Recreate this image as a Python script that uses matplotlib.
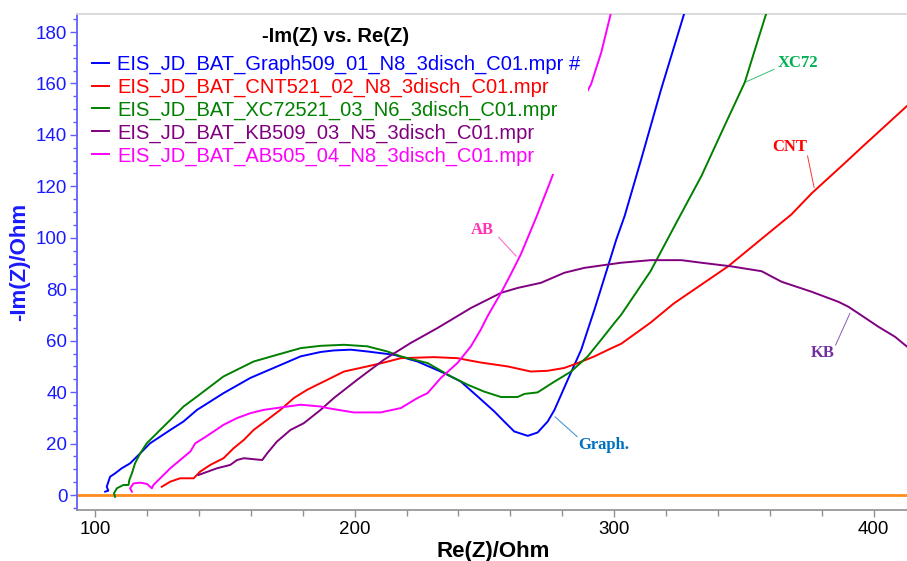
import matplotlib
matplotlib.use("Agg")
import matplotlib.pyplot as plt
from matplotlib.ticker import MultipleLocator

plt.rcParams['font.family'] = ['Liberation Sans', 'DejaVu Sans']

# Nyquist data (Re(Z), -Im(Z)) in Ohm for each electrode
graph_re = [103.9, 105.1, 104.5, 105.8, 107.7, 110.3, 113.5, 117.4, 121.2, 129, 134.1, 139.3,
            149.5, 159.8, 168.8, 179.2, 186.9, 192, 198.5, 204.9, 215.2, 224.2, 234.5, 240.9,
            247.4, 253.8, 257.6, 261.5, 266.7, 270.5, 274.4, 277, 282.1, 287.3, 292.4, 297.6,
            300.8, 304, 310.4, 318.1, 327.1]
graph_im = [1.3, 1.7, 3.2, 7.1, 8.4, 10.4, 12.3, 16.2, 20.1, 25.3, 28.6, 33.1,
            39.6, 45.5, 49.4, 53.9, 55.6, 56.2, 56.5, 55.8, 54.5, 51.9, 47.4, 44.1,
            38.3, 32.5, 28.6, 24.7, 23, 24.3, 28.6, 33.1, 44.8, 56.5, 72.1, 88.9,
            99.3, 108.4, 130.5, 157.8, 187.6]

cnt_re = [125.7, 129, 132.8, 138, 140.5, 144.4, 149.5, 153.4, 157.3, 161.1, 166.3, 171.4,
          176.6, 181.7, 186.9, 195.9, 204.9, 211.3, 217.8, 230.6, 239.6, 248.6, 258.9, 267.9,
          274.4, 280.8, 286, 292.4, 299, 302.7, 314, 323, 333.6, 343.9, 356.8, 368.3, 376.1,
          388.9, 395.4, 400.5, 413.4]
cnt_im = [3.2, 5.2, 6.5, 6.5, 9.1, 11.7, 14.3, 18.2, 21.4, 25.3, 29.2, 33.1,
          37.7, 40.9, 43.5, 48, 50, 51.5, 53.2, 53.6, 53.2, 51.5, 50, 48,
          48.3, 49.4, 51.3, 53.9, 57.1, 58.8, 67, 74.5, 81.8, 88.9, 99.6, 109.1, 117.3,
          129.1, 135.2, 139.9, 151.8]

xc72_re = [107.7, 107.3, 108.4, 110.9, 112.9, 113.2, 114.2, 115.4, 117.4, 119.9, 123.8, 129,
           134.1, 139.3, 149.5, 161.1, 170.1, 179.2, 186.9, 195.9, 204.9, 212.6, 217.8, 228.1,
           237.1, 243.5, 249.9, 256.4, 262.8, 265.4, 270.5, 277, 283.4, 289.8, 295, 300.1,
           302.7, 314, 324.6, 333.6, 341.3, 350.3, 355.5, 358.7]
xc72_im = [-0.7, 0.7, 2.6, 3.9, 3.9, 5.8, 8.4, 12.3, 16.2, 20.1, 24, 29.2,
           34.4, 38.3, 46.1, 51.9, 54.5, 57.1, 58, 58.4, 57.8, 55.8, 53.9, 51.3,
           46.1, 42.9, 40.2, 38.1, 38.1, 39.3, 39.9, 44.1, 48, 53.9, 60.4, 66.9,
           70.1, 87, 107.1, 124, 140.9, 160.4, 177.3, 187.6]

kb_re = [139.9, 147, 152.1, 154.7, 157.3, 164.4, 166.3, 170.1, 175.3, 180.4, 186.9, 192,
         201, 211.3, 221.6, 231.9, 244.8, 256.4, 262.8, 271.8, 280.8, 288.5, 297.6, 302.7,
         314, 325.9, 333.6, 345, 356.8, 364.5, 376.1, 386.4, 390.2, 394.1, 401.8, 408.2, 413.5]
kb_im = [7.8, 10.4, 11.7, 13.6, 14.3, 13.6, 16.2, 20.8, 25.3, 27.9, 33.1, 37.7,
         44.8, 52.6, 59.1, 64.9, 72.7, 78.6, 80.5, 82.5, 86.4, 88.3, 89.6, 90.3,
         91.3, 91.3, 90.3, 88.9, 87, 82.9, 79, 75.1, 73.2, 70.6, 65.4, 61.5, 57.1]

ab_re = [114.2, 113.5, 114.8, 117.4, 120, 121.9, 122.5, 125.1, 129, 132.8, 136.7, 138.6,
         141.8, 145.7, 149.5, 154.7, 159.8, 165, 172.7, 179.2, 186.9, 189.5, 199.7, 210,
         217.8, 224.2, 228.1, 233.2, 239.6, 244.8, 248.6, 251.2, 256.4, 260, 264, 270,
         275.7, 282, 287, 291.1, 295, 298.8]
ab_im = [1.3, 2.6, 4.5, 4.8, 4.3, 2.6, 3.9, 6.5, 10.4, 13.6, 16.9, 20.1,
         22.1, 24.7, 27.3, 29.9, 31.8, 33.1, 34.2, 35.1, 34.4, 33.8, 32.1, 32.1,
         33.8, 37.7, 39.6, 45.5, 51.3, 57.8, 64.3, 69.5, 78.6, 85.5, 93.5, 108,
         122.7, 140, 152, 159.7, 172, 187.6]

series_names = [
    "EIS_JD_BAT_Graph509_01_N8_3disch_C01.mpr #",
    "EIS_JD_BAT_CNT521_02_N8_3disch_C01.mpr",
    "EIS_JD_BAT_XC72521_03_N6_3disch_C01.mpr",
    "EIS_JD_BAT_KB509_03_N5_3disch_C01.mpr",
    "EIS_JD_BAT_AB505_04_N8_3disch_C01.mpr",
]
series_colors = ["#0000ff", "#ff0000", "#008000", "#800080", "#ff00ff"]

# Callout labels: text, text position, leader start, leader end, colour
callouts = [
    ("XC72",   (371.0, 168.0), (361.6, 165.5), (351.0, 160.7), "#00b050"),
    ("CNT",    (367.6, 135.3), (374.5, 131.8), (377.0, 119.6), "#ff0000"),
    ("KB",     (380.5, 55.1),  (385.3, 58.3),  (390.8, 70.6),  "#7030a0"),
    ("Graph.", (296.1, 19.5),  (285.7, 22.7),  (277.2, 30.4),  "#0070c0"),
    ("AB",     (249.3, 103.0), (255.5, 100.2), (262.2, 92.9),  "#ff33b4"),
]

fig = plt.figure(figsize=(9.07, 5.61), dpi=100)
ax = fig.add_axes([77 / 907, 1 - 510 / 561, 1 - 77 / 907 + 0.002, (510 - 14) / 561])

all_re = [graph_re, cnt_re, xc72_re, kb_re, ab_re]
all_im = [graph_im, cnt_im, xc72_im, kb_im, ab_im]
for re_, im_, name, col in zip(all_re, all_im, series_names, series_colors):
    ax.plot(re_, im_, color=col, lw=1.4, label=name, zorder=3)

ax.axhline(0, color="#ff8c1a", lw=2.0, zorder=2)

for text, tpos, p0, p1, col in callouts:
    ax.plot([p0[0], p1[0]], [p0[1], p1[1]], color=col, lw=0.7, alpha=0.8, zorder=4)
    ax.text(tpos[0], tpos[1], text, color=col, fontsize=12, fontweight="bold",
            family=["Liberation Serif", "DejaVu Serif"], ha="center", va="center", zorder=4)

ax.set_xlim(93.05, 413.5)
ax.set_ylim(-5.83, 187.0)

ax.xaxis.set_major_locator(MultipleLocator(100))
ax.xaxis.set_minor_locator(MultipleLocator(20))
ax.yaxis.set_major_locator(MultipleLocator(20))
ax.yaxis.set_minor_locator(MultipleLocator(5))

ax.spines["right"].set_visible(False)
ax.spines["top"].set_color("#d8d8d8")
ax.spines["top"].set_linewidth(1.3)
ax.spines["bottom"].set_color("#909090")
ax.spines["bottom"].set_linewidth(1.2)
ax.spines["left"].set_color("#6060ff")
ax.spines["left"].set_linewidth(1.3)

ax.tick_params(axis="x", which="major", length=5, width=1, color="#909090",
               labelsize=13.5, labelcolor="black", pad=3)
ax.tick_params(axis="x", which="minor", length=4, width=1, color="#909090")
ax.tick_params(axis="y", which="major", length=5, width=1, color="#6060ff",
               labelsize=13.5, labelcolor="#1a1aff", pad=2)
ax.tick_params(axis="y", which="minor", length=3, width=1, color="#6060ff")

ax.set_xlabel("Re(Z)/Ohm", fontsize=16, fontweight="bold", color="black", labelpad=2)
ax.set_ylabel("-Im(Z)/Ohm", fontsize=16, fontweight="bold", color="#1a1aff", labelpad=4)

leg = ax.legend(loc="upper left", bbox_to_anchor=(0.008, 0.99), fontsize=14.5,
                title="-Im(Z) vs. Re(Z)", title_fontproperties={"size": 14.5, "weight": "bold"},
                frameon=True, facecolor="white", edgecolor="none", framealpha=1.0,
                fancybox=False, borderpad=0.4, handlelength=0.85, handletextpad=0.4,
                labelspacing=0.18, borderaxespad=0)
leg.set_zorder(5)
# wider gap between the legend title and its entries
leg._legend_box.sep = 6.3
for txt, col in zip(leg.get_texts(), series_colors):
    txt.set_color(col)

fig.savefig("out.png", dpi=100)
